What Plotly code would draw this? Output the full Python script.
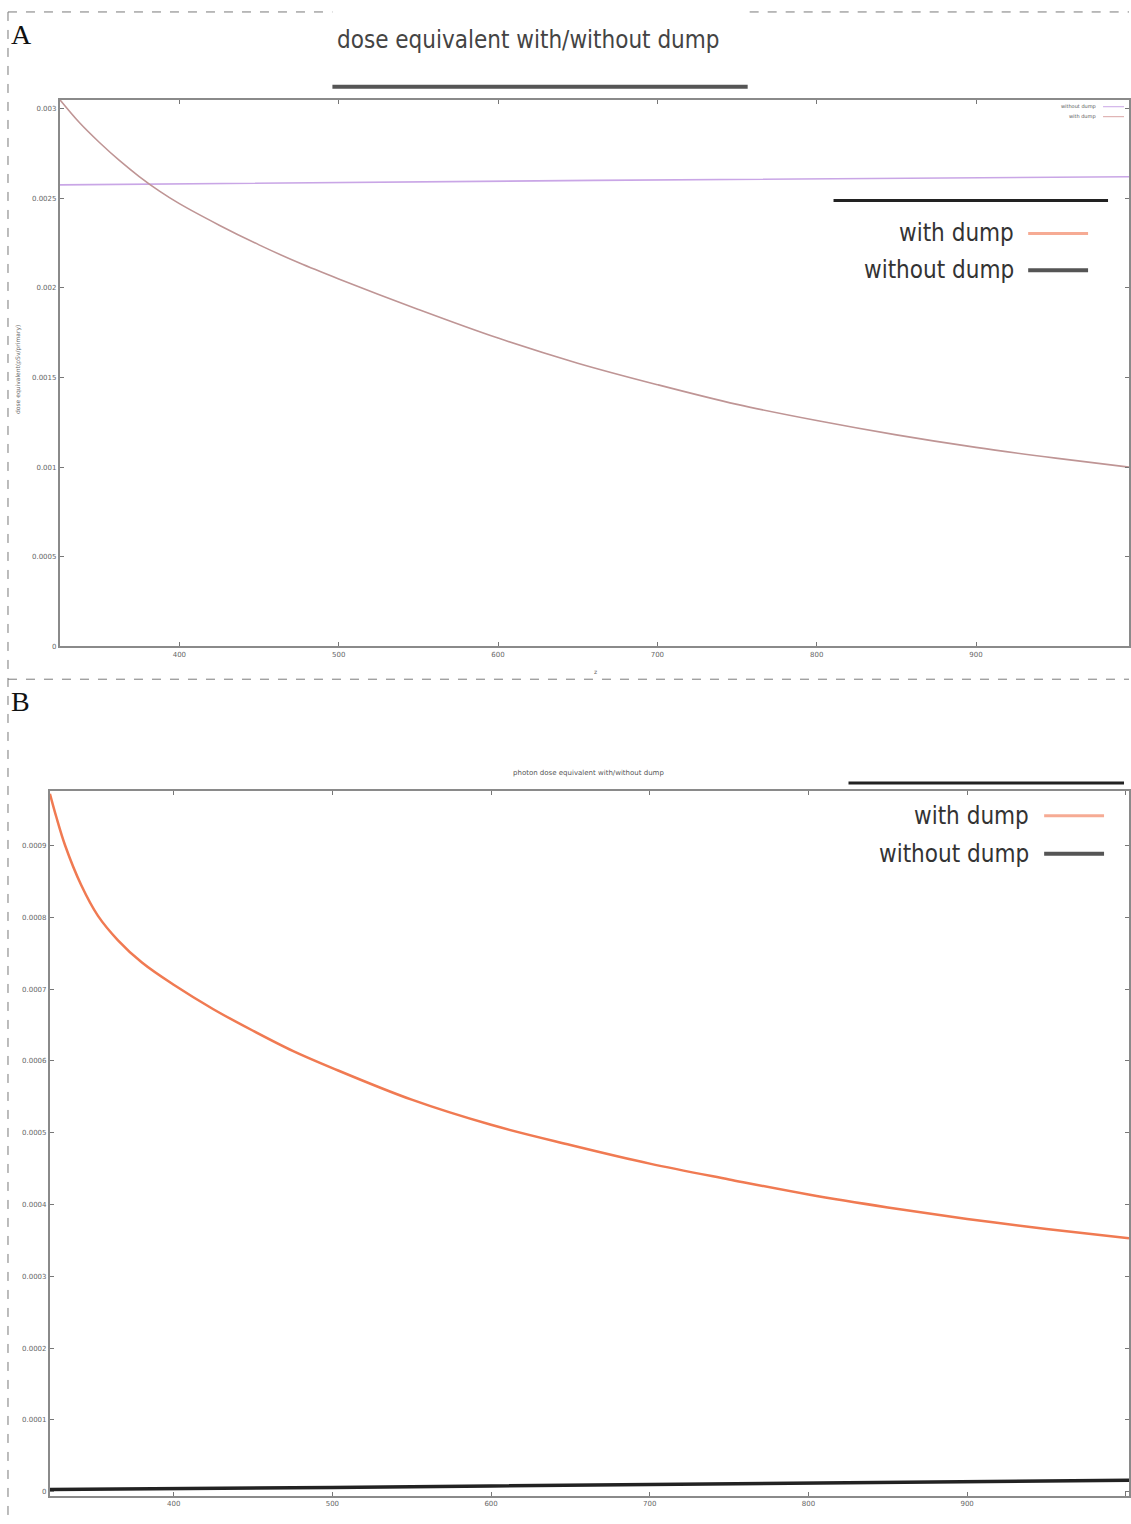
import plotly.graph_objects as go

W, H = 1131, 1524

# ---------------- data ----------------
# Panel A: dose equivalent with/without dump
a_with_x = [325, 337.5, 350, 362.5, 375, 387.5, 400, 425, 450, 475, 500, 550, 600, 650, 700,
            750, 800, 850, 900, 950, 996]
a_with_y = [0.00305, 0.00292, 0.00281, 0.00271, 0.00262, 0.00254, 0.00247, 0.00235, 0.00224,
            0.00214, 0.00205, 0.00188, 0.00172, 0.00158, 0.00146, 0.00135, 0.00126, 0.00118,
            0.00111, 0.00105, 0.00100]
a_without_x = [325, 660, 996]
a_without_y = [0.002575, 0.0026, 0.00262]

a_yticks = [0, 0.0005, 0.001, 0.0015, 0.002, 0.0025, 0.003]
a_yticktext = ["0", "0.0005", "0.001", "0.0015", "0.002", "0.0025", "0.003"]
a_xticks = [400, 500, 600, 700, 800, 900]

# Panel B: photon dose equivalent with/without dump
b_with_x = [322, 326, 331.6, 341.7, 352.3, 364.9, 380, 400, 425, 450, 475, 500, 550, 600, 650,
            700, 750, 800, 850, 900, 950, 1002]
b_with_y = [0.000972, 0.000940, 0.000900, 0.000845, 0.000802, 0.000768, 0.000737, 0.000706,
            0.000672, 0.000642, 0.000614, 0.000590, 0.000546, 0.000511, 0.000483, 0.000457,
            0.000435, 0.000414, 0.000396, 0.000380, 0.000366, 0.000353]
b_without_x = [322, 400, 500, 600, 700, 800, 900, 1002]
b_without_y = [0.000003, 0.000004, 0.000006, 0.000008, 0.000010, 0.000012, 0.000014, 0.000016]

b_yticks = [0, 0.0001, 0.0002, 0.0003, 0.0004, 0.0005, 0.0006, 0.0007, 0.0008, 0.0009]
b_yticktext = ["0", "0.0001", "0.0002", "0.0003", "0.0004", "0.0005", "0.0006", "0.0007",
               "0.0008", "0.0009"]
b_xticks = [400, 500, 600, 700, 800, 900, 1000]

series_names = ["with dump", "without dump"]
title_a = "dose equivalent with/without dump"
title_b = "photon dose equivalent with/without dump"
ytitle_a = "dose equivalent(pSv/primary)"
xtitle_a = "z"


def px(x):
    return x / W


def py(y):
    return 1 - y / H


fig = go.Figure()

fig.add_trace(go.Scatter(x=a_without_x, y=a_without_y, mode="lines", name=series_names[1],
                         line=dict(color="#c9a6e6", width=1.6), xaxis="x", yaxis="y",
                         showlegend=False))
fig.add_trace(go.Scatter(x=a_with_x, y=a_with_y, mode="lines", name=series_names[0],
                         line=dict(color="#bf9595", width=1.6, shape="spline"), xaxis="x",
                         yaxis="y", showlegend=False))

fig.add_trace(go.Scatter(x=b_without_x, y=b_without_y, mode="lines", name=series_names[1],
                         line=dict(color="#222222", width=3.5), xaxis="x2", yaxis="y2",
                         showlegend=False))
fig.add_trace(go.Scatter(x=b_with_x, y=b_with_y, mode="lines", name=series_names[0],
                         line=dict(color="#f07a52", width=2.5, shape="spline"), xaxis="x2",
                         yaxis="y2", showlegend=False))

axis_common = dict(showgrid=False, zeroline=False, showline=True, linecolor="#8a8a8a",
                   linewidth=2, ticks="inside", ticklen=4, tickcolor="#777", mirror="ticks",
                   tickfont=dict(size=7, color="#666", family="DejaVu Sans"))

fig.update_layout(
    width=W, height=H, margin=dict(l=0, r=0, t=0, b=0),
    paper_bgcolor="white", plot_bgcolor="white", showlegend=False,
    xaxis=dict(domain=[px(60), 1], range=[325, 996], tickvals=a_xticks, anchor="y",
               **axis_common),
    yaxis=dict(domain=[py(648), py(100)], range=[0, 0.00305], tickvals=a_yticks,
               ticktext=a_yticktext, anchor="x", **axis_common),
    xaxis2=dict(domain=[px(50), 1], range=[322, 1002], tickvals=b_xticks, anchor="y2",
                **axis_common),
    yaxis2=dict(domain=[py(1500), py(793)], range=[-0.000006, 0.000976], tickvals=b_yticks,
                ticktext=b_yticktext, anchor="x2", **axis_common),
)

shapes = []
dash = dict(color="#7a7a7a", width=1, dash="dash")
# dashed frame pieces
shapes.append(dict(type="line", xref="paper", yref="paper", x0=px(8), x1=px(333), y0=py(12), y1=py(12), line=dash))
shapes.append(dict(type="line", xref="paper", yref="paper", x0=px(751), x1=1, y0=py(12), y1=py(12), line=dash))
shapes.append(dict(type="line", xref="paper", yref="paper", x0=px(8), x1=px(8), y0=py(12), y1=0, line=dash))
shapes.append(dict(type="line", xref="paper", yref="paper", x0=px(8), x1=1, y0=py(681), y1=py(681), line=dash))
# black bars
shapes.append(dict(type="line", xref="paper", yref="paper", x0=px(333), x1=px(749), y0=py(87), y1=py(87), line=dict(color="#555", width=4)))
shapes.append(dict(type="line", xref="paper", yref="paper", x0=px(835), x1=px(1110), y0=py(201), y1=py(201), line=dict(color="#222", width=3)))
shapes.append(dict(type="line", xref="paper", yref="paper", x0=px(850), x1=px(1126), y0=py(785), y1=py(785), line=dict(color="#222", width=3)))
# big legend samples A
shapes.append(dict(type="line", xref="paper", yref="paper", x0=px(1030), x1=px(1090), y0=py(234), y1=py(234), line=dict(color="#f6ab94", width=3)))
shapes.append(dict(type="line", xref="paper", yref="paper", x0=px(1030), x1=px(1090), y0=py(271), y1=py(271), line=dict(color="#555", width=4)))
# big legend samples B
shapes.append(dict(type="line", xref="paper", yref="paper", x0=px(1046), x1=px(1106), y0=py(818), y1=py(818), line=dict(color="#f6ab94", width=3)))
shapes.append(dict(type="line", xref="paper", yref="paper", x0=px(1046), x1=px(1106), y0=py(856), y1=py(856), line=dict(color="#555", width=4)))
# small legend A
shapes.append(dict(type="line", xref="paper", yref="paper", x0=px(1105), x1=px(1126), y0=py(107), y1=py(107), line=dict(color="#c9a6e6", width=1)))
shapes.append(dict(type="line", xref="paper", yref="paper", x0=px(1105), x1=px(1126), y0=py(117), y1=py(117), line=dict(color="#d9a4a4", width=1)))

anns = []
serif = "Liberation Serif, DejaVu Serif, serif"
narrow = "DejaVu Sans Condensed, Liberation Sans Narrow, sans-serif"
anns.append(dict(text="A", x=px(9), y=py(35), xanchor="left", yanchor="middle", font=dict(family=serif, size=28, color="#111")))
anns.append(dict(text="B", x=px(9), y=py(703), xanchor="left", yanchor="middle", font=dict(family=serif, size=28, color="#111")))
anns.append(dict(text=title_a, x=px(529), y=py(40), xanchor="center", yanchor="middle", font=dict(family=narrow, size=24, color="#444")))
anns.append(dict(text=title_b, x=px(590), y=py(775), xanchor="center", yanchor="middle", font=dict(family="DejaVu Sans", size=7, color="#555")))
anns.append(dict(text=series_names[0], x=px(1018), y=py(234), xanchor="right", yanchor="middle", font=dict(family=narrow, size=24, color="#333")))
anns.append(dict(text=series_names[1], x=px(1018), y=py(271), xanchor="right", yanchor="middle", font=dict(family=narrow, size=24, color="#333")))
anns.append(dict(text=series_names[0], x=px(1033), y=py(818), xanchor="right", yanchor="middle", font=dict(family=narrow, size=24, color="#333")))
anns.append(dict(text=series_names[1], x=px(1033), y=py(856), xanchor="right", yanchor="middle", font=dict(family=narrow, size=24, color="#333")))
anns.append(dict(text=series_names[1], x=px(1100), y=py(107), xanchor="right", yanchor="middle", font=dict(family="DejaVu Sans", size=5, color="#555")))
anns.append(dict(text=series_names[0], x=px(1100), y=py(117), xanchor="right", yanchor="middle", font=dict(family="DejaVu Sans", size=5, color="#555")))
anns.append(dict(text=ytitle_a, x=px(18), y=py(370), xanchor="center", yanchor="middle", textangle=-90, font=dict(family="DejaVu Sans", size=6, color="#666")))
anns.append(dict(text=xtitle_a, x=px(597), y=py(673), xanchor="center", yanchor="middle", font=dict(family="DejaVu Sans", size=6, color="#666")))
for a in anns:
    a.update(xref="paper", yref="paper", showarrow=False)

fig.update_layout(shapes=shapes, annotations=anns)
fig.write_html("out.html")
